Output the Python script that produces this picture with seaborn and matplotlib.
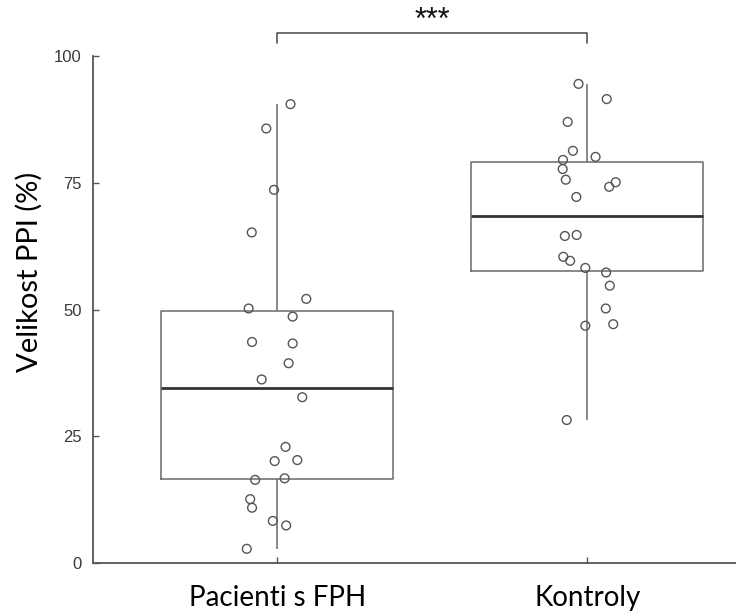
import numpy as np
import pandas as pd
import matplotlib
matplotlib.use("Agg")
import matplotlib.pyplot as plt
import seaborn as sns

categories = ["Pacienti s FPH", "Kontroly"]

pacienti_values = [90.5, 85.7, 73.6, 65.2, 52.1, 50.2, 48.6, 43.6, 43.3, 39.4, 36.2,
                   32.7, 22.9, 20.1, 20.3, 16.4, 16.7, 12.6, 10.9, 8.3, 7.4, 2.8]
pacienti_jitter = [0.043, -0.035, -0.010, -0.082, 0.094, -0.092, 0.050, -0.081, 0.050, 0.037, -0.050,
                   0.081, 0.027, -0.008, 0.065, -0.071, 0.024, -0.087, -0.081, -0.014, 0.029, -0.098]

kontroly_values = [94.5, 91.5, 87.0, 81.3, 80.1, 79.5, 77.7, 75.6, 75.1, 74.2, 72.2,
                   64.5, 64.7, 60.4, 59.6, 58.2, 57.3, 54.7, 50.2, 46.8, 47.1, 28.2]
kontroly_jitter = [-0.028, 0.063, -0.063, -0.046, 0.027, -0.078, -0.079, -0.069, 0.092, 0.071, -0.035,
                   -0.072, -0.034, -0.077, -0.055, -0.006, 0.061, 0.073, 0.060, -0.006, 0.084, -0.066]

y_ticks = [0, 25, 50, 75, 100]
significance = "***"
y_label = "Velikost PPI (%)"

df = pd.DataFrame({
    "group": [categories[0]] * len(pacienti_values) + [categories[1]] * len(kontroly_values),
    "value": pacienti_values + kontroly_values,
    "jitter": pacienti_jitter + kontroly_jitter,
})
df["pos"] = df["group"].map({c: i for i, c in enumerate(categories)}) + df["jitter"]

sns.set_style("white")
plt.rcParams["font.family"] = ["Liberation Sans", "DejaVu Sans"]

fig = plt.figure(figsize=(7.36, 6.15), dpi=100)
ax = fig.add_axes([93 / 736, 52 / 615, 643 / 736, 507 / 615])

box_color = "#6a6a6a"
sns.boxplot(data=df, x="group", y="value", order=categories, ax=ax,
            fill=False, width=0.75, whis=(0, 100), showcaps=False, showfliers=False,
            color=box_color, linewidth=1.1,
            medianprops=dict(color="#333333", linewidth=2.0))

sns.scatterplot(data=df, x="pos", y="value", ax=ax, marker="o", s=40,
                facecolor="none", edgecolor="#555555", linewidth=1.0, legend=False,
                zorder=5)

ax.set_xlim(-0.594, 1.48)
ax.set_ylim(0, 100)
ax.set_yticks(y_ticks)
ax.set_xticks(range(len(categories)))
ax.set_xticklabels(categories, fontsize=20, family=["Lato", "DejaVu Sans"], color="black")
ax.set_xlabel("")
ax.set_ylabel(y_label, fontsize=21, family=["Lato", "DejaVu Sans"], color="black")
ax.yaxis.set_label_coords(-0.078, 0.574)

for s in ["top", "right"]:
    ax.spines[s].set_visible(False)
for s in ["left", "bottom"]:
    ax.spines[s].set_color("#555555")
    ax.spines[s].set_linewidth(1.3)

ax.tick_params(axis="y", direction="in", length=4, width=1, color="#555555",
               labelsize=12, labelcolor="#3a3a3a", pad=8, left=True)
ax.tick_params(axis="x", direction="in", length=4, width=1, color="#555555",
               pad=16, bottom=True)

# significance bracket
ax.plot([0, 0, 1, 1], [102.6, 104.5, 104.5, 102.6], color="#555555", lw=1.2, clip_on=False)
ax.text(0.5, 107.0, significance, ha="center", va="center", fontsize=22, color="#111111",
        clip_on=False)

fig.savefig("out.png", dpi=100)
